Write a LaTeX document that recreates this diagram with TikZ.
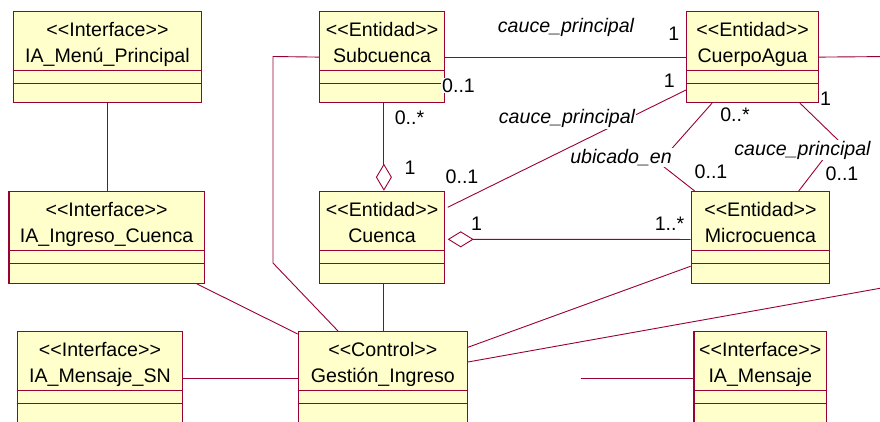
\documentclass[tikz,border=0pt]{standalone}
\usepackage{fontspec}
\newfontfamily\umlfont{Liberation Sans}
\usetikzlibrary{calc,arrows.meta}
\definecolor{umlred}{RGB}{153,0,51}
\definecolor{umlfill}{RGB}{255,255,204}
\tikzset{
  classbox/.style={draw=umlred, fill=umlfill, line width=1.2pt, anchor=north west, inner sep=0pt},
  conn/.style={draw=umlred, line width=0.9pt},
  txt/.style={font=\umlfont\fontsize{19.6}{23}\selectfont, anchor=base, inner sep=0pt},
  lbl/.style={txt, fill=white, inner sep=1pt},
  ilbl/.style={lbl, font=\umlfont\itshape\fontsize{19.6}{23}\selectfont}
}
\newcommand\umlclass[7]{%
  \node[classbox, minimum width=#4pt, minimum height=#5pt] (#1) at (#2,#3) {};
  \draw[umlred, line width=1pt] ($(#1.north west)+(0,59.7)$) -- ($(#1.north east)+(0,59.7)$);
  \draw[umlred, line width=1pt] ($(#1.north west)+(0,72.3)$) -- ($(#1.north east)+(0,72.3)$);
  \node[txt] (#1-s) at ($(#1.north)+(0,25.5)$) {#6};
  \node[txt] (#1-t) at ($(#1.north)+(0,51.7)$) {#7};
}
\begin{document}
\begin{tikzpicture}[x=1pt,y=-1pt]
\useasboundingbox (0,0) rectangle (880,421);
\clip (0,0) rectangle (880,421);
\fill[white] (0,0) rectangle (880,421);

\umlclass{menu}{12.7}{11}{188.3}{91}{<<Interface>>}{IA\_Menú\_Principal}
\umlclass{sub}{319}{11}{125}{91}{<<Entidad>>}{Subcuenca}
\umlclass{agua}{686}{11}{132}{91}{<<Entidad>>}{CuerpoAgua}
\umlclass{ingreso}{8.3}{190.7}{195.4}{92}{<<Interface>>}{IA\_Ingreso\_Cuenca}
\umlclass{cuenca}{319}{190.7}{125}{92}{<<Entidad>>}{Cuenca}
\umlclass{micro}{690.7}{191}{138.3}{91.7}{<<Entidad>>}{Microcuenca}
\umlclass{msn}{16.7}{331}{165.3}{150}{<<Interface>>}{IA\_Mensaje\_SN}
\umlclass{gest}{297.7}{331}{169}{150}{<<Control>>}{Gestión\_Ingreso}
\umlclass{mens}{693.3}{331}{132.7}{150}{<<Interface>>}{IA\_Mensaje}

% connectors
\draw[conn] (menu.south) -- (menu.south |- ingreso.north);
\coordinate (s1) at (273,56.5);
\coordinate (s2) at (273,263);
\draw[conn] (sub.west) -- (s1) -- (s2) -- ($(gest.north west)+(40.3,0)$);
\draw[conn] (sub.east) -- (agua.west);
\draw[conn] ($(agua.north west)+(0,79)$) -- ($(cuenca.north east)+(2.5,16.6)$);
\draw[conn, -{Diamond[fill=white, length=27pt, width=16pt]}] ($(sub.south)+(1.8,0)$) -- ($(cuenca.north)+(1.8,0)$);
\draw[conn, {Diamond[fill=white, length=26pt, width=16pt]}-] ($(cuenca.east)+(2.5,2)$) -- ($(micro.west)+(0,2)$);
\coordinate (u1) at (659,163);
\draw[conn] ($(agua.south west)+(26,0)$) -- (u1) -- ($(micro.north west)+(4,0)$);
\coordinate (c1) at (838,140);
\draw[conn] ($(agua.south west)+(114,0)$) -- (c1) -- ($(micro.north west)+(108,0)$);
\coordinate (e1) at (890,56.5);
\draw[conn] (agua.east) -- (e1);
\coordinate (e2) at (890,286.5);
\draw[conn] (e2) -- ($(gest.north east)+(0,31)$);
\draw[conn] ($(micro.south west)+(0,-17.7)$) -- ($(gest.north east)+(0,16.3)$);
\draw[conn] ($(cuenca.south)+(1.8,0)$) -- ($(cuenca.south |- gest.north)+(1.8,0)$);
\draw[conn] ($(ingreso.south east)+(-8,0)$) -- ($(gest.north west)+(0,3)$);
\draw[conn] ($(msn.north east)+(0,47.3)$) -- ($(gest.north west)+(0,47.3)$);
\coordinate (f1) at (580.7,378.3);
\draw[conn] (f1) -- ($(mens.north west)+(0,47.3)$);

% labels
\node[ilbl] (l1) at (566,32.3) {cauce\_principal};
\node[ilbl] (l2) at (567,123.5) {cauce\_principal};
\node[ilbl] (l3) at (621,163.3) {ubicado\_en};
\node[ilbl] (l4) at (802.5,155) {cauce\_principal};

\node[lbl] (m1) at (673.7,40) {1};
\node[lbl] (m2) at (458.5,92.3) {0..1};
\node[lbl] (m3) at (669.2,87.3) {1};
\node[lbl] (m4) at (462,183.3) {0..1};
\node[lbl] (m5) at (409.5,124.3) {0..*};
\node[lbl] (m6) at (410,174) {1};
\node[lbl] (m7) at (476.5,230) {1};
\node[lbl] (m8) at (669.5,230) {1..*};
\node[lbl] (m9) at (735,121.7) {0..*};
\node[lbl] (m10) at (711,178.5) {0..1};
\node[lbl] (m11) at (825.5,105) {1};
\node[lbl] (m12) at (842,180) {0..1};
\end{tikzpicture}
\end{document}
